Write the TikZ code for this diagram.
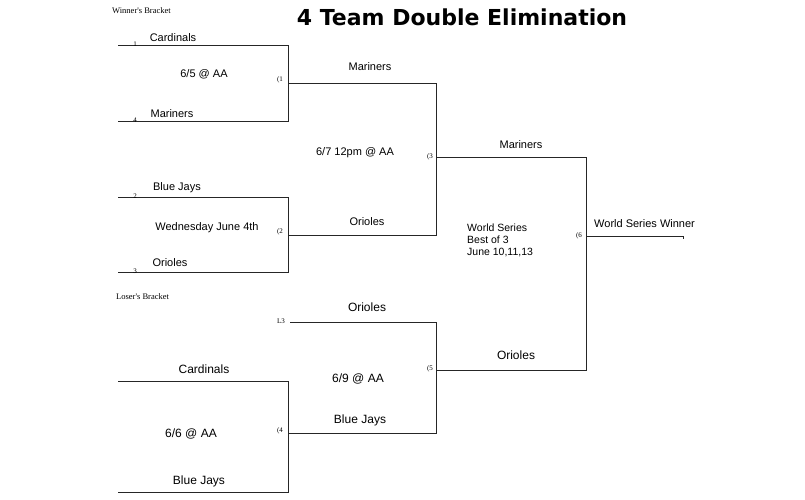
\documentclass[tikz,border=0pt]{standalone}
\usepackage{fontspec}
\setmainfont{Liberation Sans}
\newfontfamily\serifx{Liberation Serif}
\newfontfamily\titlef{DejaVu Sans}
\tikzset{ln/.style={line width=0.9pt,black!85},
 lb/.style={font=\fontsize{11}{13}\selectfont,inner sep=0pt},
 lbb/.style={font=\fontsize{12}{14}\selectfont,inner sep=0pt},
 sm/.style={font=\serifx\fontsize{7}{8}\selectfont,inner sep=0pt},
 hd/.style={font=\serifx\fontsize{8.5}{9}\selectfont,inner sep=0pt,anchor=west}}
\begin{document}
\begin{tikzpicture}[x=1pt,y=-1pt]
\useasboundingbox (0,0) rectangle (805,500);
\node[font=\titlef\bfseries\fontsize{22}{24}\selectfont,inner sep=0pt] (title) at (462,17) {4 Team Double Elimination};
\node[hd] (wb) at (112,11) {Winner's Bracket};
\node[hd] (lb) at (116,297) {Loser's Bracket};
% winners
\coordinate (a1) at (118,45); \coordinate (a2) at (288,45);
\coordinate (b1) at (118,121); \coordinate (b2) at (288,121);
\coordinate (c1) at (118,197); \coordinate (c2) at (288,197);
\coordinate (d1) at (118,272); \coordinate (d2) at (288,272);
\coordinate (g1) at (288,83); \coordinate (g1e) at (436,83);
\coordinate (g2) at (288,235); \coordinate (g2e) at (436,235);
\coordinate (g3) at (436,157); \coordinate (g3e) at (586,157);
\draw[ln] (a1)--(a2)--(b2)--(b1);
\draw[ln] (c1)--(c2)--(d2)--(d1);
\draw[ln] (g1)--(g1e)--(g2e)--(g2);
% losers
\coordinate (e1) at (290,322); \coordinate (e2) at (436,322);
\coordinate (f1) at (118,381); \coordinate (f2) at (288,381);
\coordinate (h1) at (118,492); \coordinate (h2) at (288,492);
\coordinate (g4) at (288,433); \coordinate (g4e) at (436,433);
\coordinate (g5) at (436,370); \coordinate (g5e) at (586,370);
\draw[ln] (f1)--(f2)--(h2)--(h1);
\draw[ln] (e1)--(e2)--(g4e)--(g4);
\draw[ln] (g3)--(g3e)--(g5e)--(g5);
\coordinate (g6) at (586,236); \coordinate (g6e) at (683,236);
\draw[ln] (g6)--(g6e)--++(0,3);
% labels
\node[lb] (t1) at (173,38) {Cardinals};
\node[lb] (t2) at (204,74) {6/5 @ AA};
\node[sm] (n1) at (280,80) {(1};
\node[lb] (t3) at (172,114) {Mariners};
\node[sm] (s1) at (135,44) {1};
\node[sm] (s4) at (135,120) {4};
\node[sm] (s2) at (135,196) {2};
\node[sm] (s3) at (135,271) {3};
\node[lb] (t4) at (370,67) {Mariners};
\node[lb] (t5) at (355,153) {6/7 12pm @ AA};
\node[sm] (n3) at (430,157) {(3};
\node[lb] (t6) at (367,222) {Orioles};
\node[lb] (t7) at (177,188) {Blue Jays};
\node[lb] (t8) at (207,228) {Wednesday June 4th};
\node[sm] (n2) at (280,232) {(2};
\node[lb] (t9) at (170,263) {Orioles};
\node[lb] (t10) at (521,145) {Mariners};
\node[lb,anchor=west,align=left,font=\fontsize{10.5}{12}\selectfont] (ws) at (467,240) {World Series\\Best of 3\\June 10,11,13};
\node[sm] (n6) at (579,236) {(6};
\node[lb,anchor=west] (wsw) at (594,224) {World Series Winner};
\node[lbb] (t11) at (367,307) {Orioles};
\node[sm] (l3) at (281,321) {L3};
\node[lbb] (t12) at (204,369) {Cardinals};
\node[lbb] (t13) at (358,379) {6/9 @ AA};
\node[sm] (n5) at (430,369) {(5};
\node[lbb] (t14) at (516,355) {Orioles};
\node[lbb] (t15) at (360,420) {Blue Jays};
\node[lbb] (t16) at (191,434) {6/6 @ AA};
\node[sm] (n4) at (280,431) {(4};
\node[lbb] (t17) at (199,481) {Blue Jays};
\end{tikzpicture}
\end{document}
